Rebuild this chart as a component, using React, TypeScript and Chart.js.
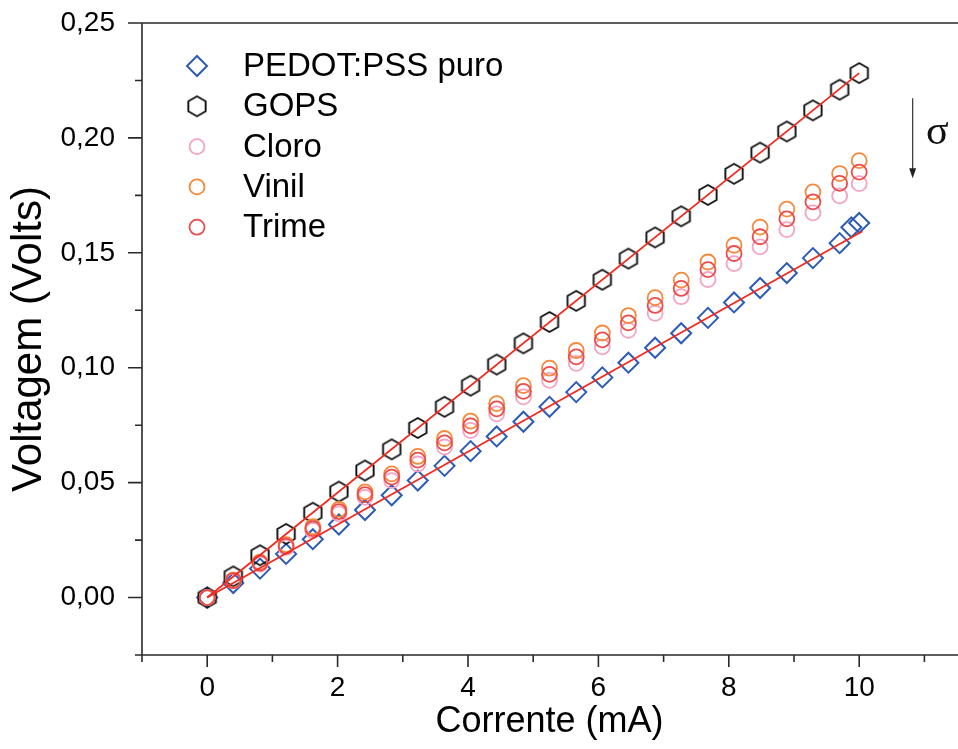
import React, { useEffect, useRef } from 'react';
import { Chart, registerables } from 'chart.js';
Chart.register(...registerables);

const FONT = "'Liberation Sans', Arial, sans-serif";

// Corrente (mA)
const currentX = [0, 0.40, 0.81, 1.21, 1.62, 2.02, 2.42, 2.83, 3.23, 3.64, 4.04, 4.44, 4.85, 5.25, 5.66, 6.06, 6.46, 6.87, 7.27, 7.68, 8.08, 8.48, 8.89, 9.29, 9.70, 10.0];
const pedotX = [0, 0.40, 0.81, 1.21, 1.62, 2.02, 2.42, 2.83, 3.23, 3.64, 4.04, 4.44, 4.85, 5.25, 5.66, 6.06, 6.46, 6.87, 7.27, 7.68, 8.08, 8.48, 8.89, 9.29, 9.70, 9.88, 10.0];

// Voltagem (Volts)
const pedotY = [0, 0.0063, 0.0126, 0.0190, 0.0254, 0.0318, 0.0381, 0.0445, 0.0509, 0.0573, 0.0637, 0.0701, 0.0765, 0.0830, 0.0894, 0.0958, 0.1022, 0.1087, 0.1150, 0.1217, 0.1284, 0.1347, 0.1412, 0.1477, 0.1542, 0.1611, 0.1630];
const gopsY = [0, 0.0092, 0.0184, 0.0277, 0.0369, 0.0461, 0.0553, 0.0645, 0.0738, 0.0830, 0.0922, 0.1014, 0.1106, 0.1199, 0.1291, 0.1383, 0.1475, 0.1567, 0.1659, 0.1752, 0.1844, 0.1936, 0.2028, 0.2120, 0.2210, 0.2282];
const cloroY = [0, 0.0072, 0.0146, 0.0218, 0.0292, 0.0364, 0.0436, 0.0509, 0.0581, 0.0655, 0.0727, 0.0799, 0.0873, 0.0945, 0.1019, 0.1091, 0.1163, 0.1237, 0.1309, 0.1384, 0.1453, 0.1526, 0.1601, 0.1674, 0.1748, 0.1801];
const vinilY = [0, 0.0076, 0.0154, 0.0230, 0.0308, 0.0384, 0.0460, 0.0538, 0.0614, 0.0692, 0.0768, 0.0844, 0.0922, 0.0998, 0.1075, 0.1151, 0.1227, 0.1305, 0.1381, 0.1460, 0.1533, 0.1612, 0.1690, 0.1765, 0.1845, 0.1901];
const trimeY = [0, 0.0074, 0.0150, 0.0224, 0.0300, 0.0374, 0.0448, 0.0524, 0.0598, 0.0673, 0.0747, 0.0821, 0.0897, 0.0971, 0.1047, 0.1121, 0.1195, 0.1271, 0.1345, 0.1427, 0.1497, 0.1570, 0.1648, 0.1722, 0.1802, 0.1851];

// Linear fits
const gopsFitX = [0, 10.0];
const gopsFitY = [0, 0.2282];
const pedotFitX = [0, 10.05];
const pedotFitY = [0, 0.1594];

// Axes
const xMajorTicks = [0, 2, 4, 6, 8, 10];
const xMinorTicks = [-1, 1, 3, 5, 7, 9, 11];
const yMajorTicks = [0, 0.05, 0.10, 0.15, 0.20, 0.25];
const yMinorTicks = [-0.025, 0.025, 0.075, 0.125, 0.175, 0.225];

const seriesNames = ['PEDOT:PSS puro', 'GOPS', 'Cloro', 'Vinil', 'Trime'];
const COLORS = {
  pedot: '#2d5cb5',
  gops: '#111111',
  cloro: '#f4a3c4',
  vinil: '#f5883a',
  trime: '#ee4a4a',
  fit: '#f22a1e',
};

// Sigma arrow annotation (data coordinates)
const arrowX = 10.82;
const arrowTopY = 0.2173;
const arrowBottomY = 0.1825;
const sigmaX = 11.2;
const sigmaY = 0.2003;

function makeHexagon(r: number, lw: number, color: string) {
  const size = Math.ceil(2 * (r + lw));
  const c = document.createElement('canvas');
  c.width = size;
  c.height = size;
  const ctx = c.getContext('2d')!;
  ctx.strokeStyle = color;
  ctx.lineWidth = lw;
  ctx.lineJoin = 'miter';
  ctx.beginPath();
  for (let k = 0; k < 6; k++) {
    const a = -Math.PI / 2 + (k * Math.PI) / 3;
    const px = size / 2 + r * Math.cos(a);
    const py = size / 2 + r * Math.sin(a);
    if (k === 0) ctx.moveTo(px, py);
    else ctx.lineTo(px, py);
  }
  ctx.closePath();
  ctx.stroke();
  return c;
}

const toPts = (xs: number[], ys: number[]) => xs.map((x, i) => ({ x, y: ys[i] }));

export default function App() {
  const ref = useRef<HTMLCanvasElement | null>(null);

  useEffect(() => {
    if (!ref.current) return;
    const hex = makeHexagon(10, 1.9, COLORS.gops);

    const drawMarker = (ctx: CanvasRenderingContext2D, kind: number, cx: number, cy: number) => {
      ctx.save();
      if (kind === 0) {
        ctx.strokeStyle = COLORS.pedot;
        ctx.lineWidth = 2;
        ctx.beginPath();
        ctx.moveTo(cx, cy - 10);
        ctx.lineTo(cx + 10, cy);
        ctx.lineTo(cx, cy + 10);
        ctx.lineTo(cx - 10, cy);
        ctx.closePath();
        ctx.stroke();
      } else if (kind === 1) {
        ctx.drawImage(hex, cx - hex.width / 2, cy - hex.height / 2);
      } else {
        ctx.strokeStyle = kind === 2 ? COLORS.cloro : kind === 3 ? COLORS.vinil : COLORS.trime;
        ctx.lineWidth = 1.8;
        ctx.beginPath();
        ctx.arc(cx, cy, 7.5, 0, Math.PI * 2);
        ctx.stroke();
      }
      ctx.restore();
    };

    const decor = {
      id: 'decor',
      afterDraw(chart: any) {
        const { ctx, chartArea: ca } = chart;
        const x = chart.scales.x;
        const y = chart.scales.y;
        ctx.save();
        ctx.strokeStyle = '#2a2a2a';
        ctx.lineWidth = 1.6;
        ctx.beginPath();
        ctx.moveTo(ca.left, ca.top);
        ctx.lineTo(ca.left, ca.bottom);
        ctx.lineTo(ca.right + 2, ca.bottom);
        ctx.moveTo(ca.left, ca.top);
        ctx.lineTo(ca.right + 2, ca.top);
        xMajorTicks.forEach((v) => {
          const px = x.getPixelForValue(v);
          ctx.moveTo(px, ca.bottom);
          ctx.lineTo(px, ca.bottom + 12);
        });
        xMinorTicks.forEach((v) => {
          const px = x.getPixelForValue(v);
          ctx.moveTo(px, ca.bottom);
          ctx.lineTo(px, ca.bottom + 7);
        });
        yMajorTicks.forEach((v) => {
          const py = y.getPixelForValue(v);
          ctx.moveTo(ca.left, py);
          ctx.lineTo(ca.left - 14, py);
        });
        yMinorTicks.forEach((v) => {
          const py = y.getPixelForValue(v);
          ctx.moveTo(ca.left, py);
          ctx.lineTo(ca.left - 7, py);
        });
        ctx.stroke();

        // sigma arrow
        const ax = x.getPixelForValue(arrowX);
        const ay1 = y.getPixelForValue(arrowTopY);
        const ay2 = y.getPixelForValue(arrowBottomY);
        ctx.strokeStyle = '#333';
        ctx.lineWidth = 1.2;
        ctx.beginPath();
        ctx.moveTo(ax, ay1);
        ctx.lineTo(ax, ay2 - 8);
        ctx.stroke();
        ctx.fillStyle = '#222';
        ctx.beginPath();
        ctx.moveTo(ax - 3.5, ay2 - 10);
        ctx.lineTo(ax + 3.5, ay2 - 10);
        ctx.lineTo(ax, ay2);
        ctx.closePath();
        ctx.fill();
        ctx.fillStyle = '#111';
        ctx.font = "42px 'Liberation Serif', 'DejaVu Serif', serif";
        ctx.textAlign = 'center';
        ctx.textBaseline = 'middle';
        ctx.fillText('σ', x.getPixelForValue(sigmaX), y.getPixelForValue(sigmaY) - 4);

        // legend
        ctx.font = `33px ${FONT}`;
        ctx.textAlign = 'left';
        ctx.textBaseline = 'middle';
        ctx.fillStyle = '#000';
        seriesNames.forEach((name, i) => {
          const cy = ca.top + 43 + i * 40.3;
          drawMarker(ctx, i, ca.left + 55, cy);
          ctx.fillStyle = '#000';
          ctx.fillText(name, ca.left + 101, cy + 1);
        });
        ctx.restore();
      },
    };

    const chart = new Chart(ref.current, {
      type: 'scatter',
      data: {
        datasets: [
          {
            label: 'GOPS fit',
            data: toPts(gopsFitX, gopsFitY),
            showLine: true,
            borderColor: COLORS.fit,
            borderWidth: 1.8,
            pointRadius: 0,
            order: 0,
          },
          {
            label: 'PEDOT fit',
            data: toPts(pedotFitX, pedotFitY),
            showLine: true,
            borderColor: COLORS.fit,
            borderWidth: 1.8,
            pointRadius: 0,
            order: 0,
          },
          {
            label: 'Trime',
            data: toPts(currentX, trimeY),
            pointStyle: 'circle',
            pointRadius: 7.5,
            borderWidth: 1.8,
            borderColor: COLORS.trime,
            backgroundColor: 'transparent',
            order: 1,
          },
          {
            label: 'Vinil',
            data: toPts(currentX, vinilY),
            pointStyle: 'circle',
            pointRadius: 7.5,
            borderWidth: 1.8,
            borderColor: COLORS.vinil,
            backgroundColor: 'transparent',
            order: 2,
          },
          {
            label: 'Cloro',
            data: toPts(currentX, cloroY),
            pointStyle: 'circle',
            pointRadius: 7.5,
            borderWidth: 1.8,
            borderColor: COLORS.cloro,
            backgroundColor: 'transparent',
            order: 3,
          },
          {
            label: 'GOPS',
            data: toPts(currentX, gopsY),
            pointStyle: hex as any,
            pointRadius: 10,
            borderColor: COLORS.gops,
            backgroundColor: 'transparent',
            order: 4,
          },
          {
            label: 'PEDOT:PSS puro',
            data: toPts(pedotX, pedotY),
            pointStyle: 'rectRot',
            pointRadius: 10,
            borderWidth: 2,
            borderColor: COLORS.pedot,
            backgroundColor: 'transparent',
            order: 5,
          },
        ],
      },
      options: {
        animation: false,
        responsive: true,
        maintainAspectRatio: false,
        layout: { autoPadding: false, padding: { top: 23, right: 1, left: 0, bottom: 0 } },
        plugins: { legend: { display: false }, tooltip: { enabled: false } },
        scales: {
          x: {
            type: 'linear',
            min: -1,
            max: 11.5,
            afterBuildTicks: (s: any) => {
              s.ticks = xMajorTicks.map((v) => ({ value: v }));
            },
            afterFit: (s: any) => {
              s.height = 94;
              s.paddingLeft = 0;
              s.paddingRight = 0;
            },
            grid: { display: false, drawTicks: false },
            border: { display: false },
            ticks: {
              font: { size: 28, family: FONT },
              color: '#000',
              padding: 16,
              maxRotation: 0,
              autoSkip: false,
              callback: (v: any) => String(v),
            },
            title: {
              display: true,
              text: 'Corrente (mA)',
              font: { size: 36, family: FONT },
              color: '#000',
              padding: { top: 0, bottom: 5 },
            },
          },
          y: {
            type: 'linear',
            min: -0.025,
            max: 0.25,
            afterBuildTicks: (s: any) => {
              s.ticks = yMajorTicks.map((v) => ({ value: v }));
            },
            afterFit: (s: any) => {
              s.width = 142;
              s.paddingTop = 0;
              s.paddingBottom = 0;
            },
            grid: { display: false, drawTicks: false },
            border: { display: false },
            ticks: {
              font: { size: 28, family: FONT },
              color: '#000',
              padding: 27,
              autoSkip: false,
              callback: (v: any) => Number(v).toFixed(2).replace('.', ','),
            },
            title: {
              display: true,
              text: 'Voltagem (Volts)',
              font: { size: 42, family: FONT },
              color: '#000',
              padding: { top: 4, bottom: 0 },
            },
          },
        },
      },
      plugins: [decor],
    });
    return () => chart.destroy();
  }, []);

  return (
    <div style={{ position: 'fixed', left: 0, top: 0, width: 958, height: 749, background: '#fff' }}>
      <canvas ref={ref} />
    </div>
  );
}
